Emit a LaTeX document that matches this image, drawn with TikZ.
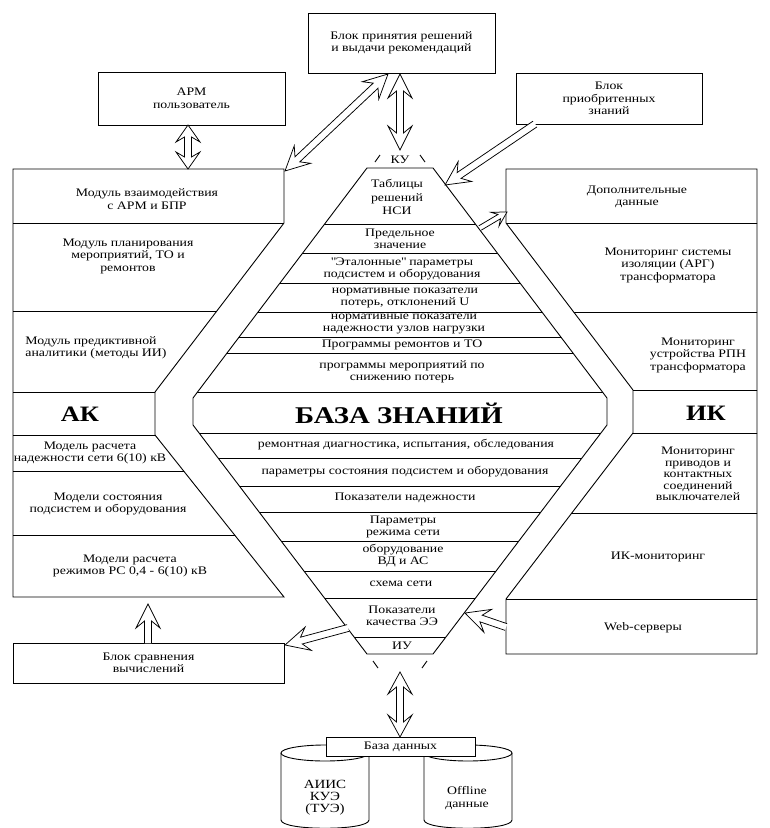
\documentclass[tikz,border=0pt]{standalone}
\usepackage{fontspec}
\setmainfont{Liberation Serif}[FakeStretch=1.2]
\usetikzlibrary{calc}
\newcommand\nfs{\fontsize{11.5}{12.5}\selectfont}
\newcommand\cfs{\fontsize{11.5}{12}\selectfont}
\newcommand\bigfs{\bfseries\fontsize{22}{24}\selectfont}
\newcommand\hugefs{\bfseries\fontsize{24}{26}\selectfont}
% arrow geometry
\newcommand\ahH{24}\newcommand\ahB{12}\newcommand\ahW{3.5}\newcommand\ahK{7}
\makeatletter
\newcommand\ha@prep[2]{%
  \pgfpointdiff{\pgfpointanchor{#1}{center}}{\pgfpointanchor{#2}{center}}%
  \pgfgetlastxy{\ha@dx}{\ha@dy}%
  \pgfmathsetmacro\ha@ang{atan2(\ha@dy,\ha@dx)}%
  \pgfmathsetmacro\haL{veclen(\ha@dx,\ha@dy)}%
}
\newcommand\dblarrow[2]{%
  \ha@prep{#1}{#2}%
  \begin{scope}[shift={(#1)},rotate=\ha@ang]
    \draw[arr] (0,0) -- (\ahH,\ahB) -- (\ahH-\ahK,\ahW) -- (\haL-\ahH+\ahK,\ahW)
      -- (\haL-\ahH,\ahB) -- (\haL,0) -- (\haL-\ahH,-\ahB) -- (\haL-\ahH+\ahK,-\ahW)
      -- (\ahH-\ahK,-\ahW) -- (\ahH,-\ahB) -- cycle;
  \end{scope}}
\newcommand\sglarrow[2]{%
  \ha@prep{#1}{#2}%
  \begin{scope}[shift={(#1)},rotate=\ha@ang]
    \fill[white] (0,\ahW) -- (\haL-\ahH+\ahK,\ahW) -- (\haL-\ahH,\ahB) -- (\haL,0)
      -- (\haL-\ahH,-\ahB) -- (\haL-\ahH+\ahK,-\ahW) -- (0,-\ahW) -- cycle;
    \draw[arr] (0,\ahW) -- (\haL-\ahH+\ahK,\ahW) -- (\haL-\ahH,\ahB) -- (\haL,0)
      -- (\haL-\ahH,-\ahB) -- (\haL-\ahH+\ahK,-\ahW) -- (0,-\ahW);
  \end{scope}}
\makeatother
\begin{document}
\begin{tikzpicture}[x=1pt,y=-1pt,line width=0.9pt,font=\nfs,
  box/.style={draw,fill=white,align=center,inner sep=0pt},
  txt/.style={align=center,inner sep=0pt},
  ctxt/.style={align=center,inner sep=0pt,font=\cfs},
  arr/.style={draw,fill=white,line width=0.75pt,line join=miter}]
\useasboundingbox (0,0) rectangle (770,828);
\fill[white] (0,0) rectangle (770,828);
\clip (0,0) rectangle (770,828);

% ---------- top boxes ----------
\node[box,minimum width=187pt,minimum height=60pt] (bpr) at (401.5,43) {Блок принятия решений\\и выдачи рекомендаций};
\node[box,minimum width=187pt,minimum height=53pt] (arm) at (191.5,98.5) {АРМ\\пользователь};
\node[box,minimum width=186pt,minimum height=51pt] (bpz) at (609,98.5) {Блок\\приобритенных\\знаний};

% ---------- left region ----------
\draw (13,169) -- (284,169) -- (284,223) -- (155,392) -- (155,435) -- (284,597) -- (13,597) -- cycle;
\begin{scope}
  \clip (13,169) -- (284,169) -- (284,223) -- (155,392) -- (155,435) -- (284,597) -- (13,597) -- cycle;
  \foreach \yy in {223,311,392,435,471,535} \draw (0,\yy) -- (300,\yy);
\end{scope}
\node[txt] (l1) at (147,199) {Модуль взаимодействия\\с АРМ и БПР};
\node[txt] (l2) at (128,256) {Модуль планирования\\мероприятий, ТО и\\ремонтов};
\node[txt,align=left,anchor=west] (l3) at (25,348) {Модуль предиктивной\\аналитики (методы ИИ)};
\node[txt,font=\bigfs] (ak) at (80,414) {АК};
\node[txt] (l4) at (90,453) {Модель расчета\\надежности сети 6(10) кВ};
\node[txt] (l5) at (108,504) {Модели состояния\\подсистем и оборудования};
\node[txt] (l6) at (130,566) {Модели расчета\\режимов РС 0,4 - 6(10) кВ};
\node[box,minimum width=271pt,minimum height=40pt] (bsv) at (148.5,663) {Блок сравнения\\вычислений};

% ---------- right region ----------
\draw (506,169) -- (757,169) -- (757,654) -- (506,654) -- (506,599) -- (633,433) -- (633,390) -- (506,223) -- cycle;
\begin{scope}
  \clip (506,169) -- (757,169) -- (757,654) -- (506,654) -- (506,599) -- (633,433) -- (633,390) -- (506,223) -- cycle;
  \foreach \yy in {223,312,390,433,513,599} \draw (480,\yy) -- (770,\yy);
\end{scope}
\node[txt] (r1) at (637,197) {Дополнительные\\данные};
\node[txt] (r2) at (668,265) {Мониторинг системы\\изоляции (АРГ)\\трансформатора};
\node[txt] (r3) at (698,355) {Мониторинг\\устройства РПН\\трансформатора};
\node[txt,font=\bigfs] (ik) at (706,413) {ИК};
\node[txt,font=\fontsize{11.5}{11.5}\selectfont] (r4) at (698,474) {Мониторинг\\приводов и\\контактных\\соединений\\выключателей};
\node[txt] (r5) at (658,557) {ИК-мониторинг};
\node[txt] (r6) at (643,628) {Web-серверы};

% ---------- central knowledge base ----------
\draw (367,168) -- (433,168) -- (607,398) -- (607,425) -- (433,654) -- (367,654) -- (193,425) -- (193,398) -- cycle;
\begin{scope}
  \clip (367,168) -- (433,168) -- (607,398) -- (607,425) -- (433,654) -- (367,654) -- (193,425) -- (193,398) -- cycle;
  \foreach \yy in {224,253,283,312,337,353,392,433,458,486,512,541,571,598,637} \draw (180,\yy) -- (620,\yy);
\end{scope}
\draw (375,162) -- (380,155);
\draw (425,162) -- (420,155);
\draw (373,661) -- (378,668);
\draw (427,661) -- (422,668);
\node[ctxt] (ku) at (400,160) {КУ};
\node[ctxt,font=\fontsize{11.5}{13.5}\selectfont] (c1) at (397,197) {Таблицы\\решений\\НСИ};
\node[ctxt] (c2) at (400,239) {Предельное\\значение};
\node[ctxt] (c3) at (402,269) {\textquotedbl Эталонные\textquotedbl{} параметры\\подсистем и оборудования};
\node[ctxt] (c4) at (405,298) {нормативные показатели\\потерь, отклонений U};
\node[ctxt] (c5) at (404,324) {нормативные показатели\\надежности узлов нагрузки};
\node[ctxt] (c6) at (402,345) {Программы ремонтов и ТО};
\node[ctxt] (c7) at (402,372) {программы мероприятий по\\снижению потерь};
\node[txt,font=\hugefs] (kb) at (399,413) {БАЗА ЗНАНИЙ};
\node[ctxt] (c9) at (406,445) {ремонтная диагностика, испытания, обследования};
\node[ctxt] (c10) at (405,472) {параметры состояния подсистем и оборудования};
\node[ctxt] (c11) at (405,498) {Показатели надежности};
\node[ctxt] (c12) at (403,527) {Параметры\\режима сети};
\node[ctxt] (c13) at (403,556) {оборудование\\ВД и АС};
\node[ctxt] (c14) at (401,584) {схема сети};
\node[ctxt] (c15) at (402,616) {Показатели\\качества ЭЭ};
\node[ctxt] (c16) at (402,646) {ИУ};

% ---------- database ----------
\draw[fill=white] (281,753) -- (281,820) .. controls (281,831) and (369,831) .. (369,820) -- (369,753);
\draw[fill=white] (325,753) ellipse [x radius=44pt,y radius=8pt];
\draw[fill=white] (424,753) -- (424,820) .. controls (424,831) and (512,831) .. (512,820) -- (512,753);
\draw[fill=white] (468,753) ellipse [x radius=44pt,y radius=8pt];
\node[box,minimum width=149pt,minimum height=19pt] (bd) at (400.5,746.5) {База данных};
\node[txt,font=\fontsize{12.5}{12}\selectfont] (db1) at (325,798) {АИИС\\КУЭ\\(ТУЭ)};
\node[txt] (db2) at (467,798) {Offline\\данные};

% ---------- arrows ----------
\coordinate (a1s) at (188,125); \coordinate (a1e) at (188,169);
\coordinate (a2s) at (285,171); \coordinate (a2e) at (388,74);
\coordinate (a3s) at (400,74);  \coordinate (a3e) at (400,150);
\coordinate (a4s) at (535,124); \coordinate (a4e) at (445,185);
\coordinate (a5s) at (480,228); \coordinate (a5e) at (507,212);
\coordinate (a6s) at (348,628); \coordinate (a6e) at (285,645);
\coordinate (a7s) at (506,627); \coordinate (a7e) at (465,613);
\coordinate (a8s) at (148,643); \coordinate (a8e) at (148,604);
\coordinate (a9s) at (400,672); \coordinate (a9e) at (400,737);
\begingroup
\renewcommand\ahH{17}\renewcommand\ahK{5}
\dblarrow{a1s}{a1e}
\endgroup
\dblarrow{a2s}{a2e}
\dblarrow{a3s}{a3e}
\sglarrow{a4s}{a4e}
\begingroup
\renewcommand\ahH{14}\renewcommand\ahB{8}\renewcommand\ahW{2.5}\renewcommand\ahK{5}
\sglarrow{a5s}{a5e}
\endgroup
\sglarrow{a6s}{a6e}
\sglarrow{a7s}{a7e}
\sglarrow{a8s}{a8e}
\begingroup
\renewcommand\ahH{22}
\dblarrow{a9s}{a9e}
\endgroup
\end{tikzpicture}
\end{document}
